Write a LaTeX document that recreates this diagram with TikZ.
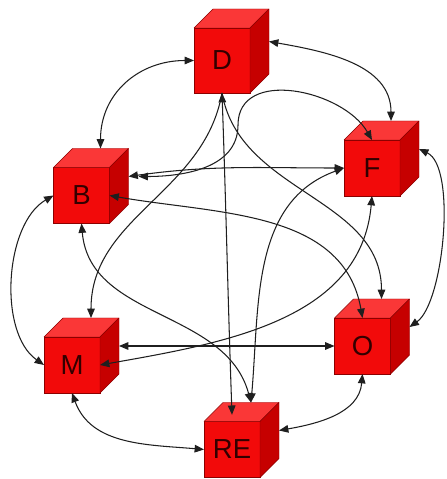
\documentclass[tikz,border=0pt]{standalone}
\usepackage{fontspec}
\setmainfont{Liberation Sans}
\usetikzlibrary{arrows.meta}
\definecolor{vermFrente}{RGB}{242,10,10}
\definecolor{vermTopo}{RGB}{250,55,55}
\definecolor{vermLado}{RGB}{198,0,0}
\definecolor{vermBorda}{RGB}{140,0,0}
\definecolor{letra}{RGB}{50,0,0}
\begin{document}
\begin{tikzpicture}[x=0.03cm, y=0.03cm]
  \tikzstyle{cubo}=[draw=vermBorda, fill=vermFrente, line width=0.4pt, inner sep=0pt, outer sep=0pt,
    minimum width=1.68cm, minimum height=1.68cm, text=letra, font=\fontsize{23.5}{24}\selectfont]
  \tikzstyle{topo}=[draw=vermBorda, fill=vermTopo, line width=0.4pt, line join=round]
  \tikzstyle{lado}=[draw=vermBorda, fill=vermLado, line width=0.4pt, line join=round]
  \tikzstyle{seta}=[draw=black!88, line width=0.9pt, <->, >={Triangle[length=8pt, width=6.5pt]}]

  \useasboundingbox (0,0) rectangle (446,479);

  % caixas
  \node[cubo, minimum height=1.95cm] (D) at (222,418.5) {D};
  \node[cubo] (B) at (81.5,283.5) {B};
  \node[cubo] (F) at (372,311) {F};
  \node[cubo] (M) at (72,114) {M};
  \node[cubo] (O) at (362.5,133) {O};
  \node[cubo] (RE) at (232,29.5) {RE};

  % faces de cima e do lado
  \foreach \n in {D,B,F,M,O,RE} {
    \filldraw[topo] (\n.north west) -- ++(19,19) -- ([shift={(19,19)}]\n.north east) -- (\n.north east) -- cycle;
    \filldraw[lado] (\n.north east) -- ++(19,19) -- ([shift={(19,19)}]\n.south east) -- (\n.south east) -- cycle;
    \coordinate (\n-topo) at ([shift={(19,19)}]\n.north);
    \coordinate (\n-lado) at ([shift={(19,19)}]\n.east);
  }
  \coordinate (volta) at (238,354);

  % ligacoes em volta
  \draw[seta] (D.west) to[out=180, in=90, looseness=1.1] (B-topo);
  \draw[seta] (D-lado) to[out=-10, in=90] (F-topo);
  \draw[seta] (F-lado) to[out=-25, in=35, looseness=0.6] (O-lado);
  \draw[seta] (B.west) to[out=210, in=145, looseness=0.85] (M.west);
  \draw[seta] (M.south) to[out=-70, in=175] (RE.west);
  \draw[seta] (O.south) to[out=-95, in=10] (RE-lado);

  % ligacoes cruzadas
  \draw[seta] (M-lado) -- (O.west);
  \draw[seta] (F.south) to[out=-95, in=10] (M.east);
  \draw[seta] (B-lado) to[out=8, in=180] (F.west);
  \draw[seta] ([xshift=0.3cm]B-lado) to[out=0, in=-90] (volta) to[out=90, in=120, looseness=1.1] (F.north);
  \draw[seta] (B.east) to[out=-10, in=100] (O.north);
  \draw[seta] (B.south) to[out=-85, in=105] (RE-topo);
  \draw[seta] (RE-topo) to[out=85, in=200] (F.west);

  % saidas de baixo de D
  \draw[seta] (D.south) to[out=-88, in=92] ([yshift=0.2cm]RE.north);
  \draw[seta, ->] (D.south) to[out=-100, in=90] (M-topo);
  \draw[seta, ->] (D.south) to[out=-80, in=90] (O-topo);
\end{tikzpicture}
\end{document}
